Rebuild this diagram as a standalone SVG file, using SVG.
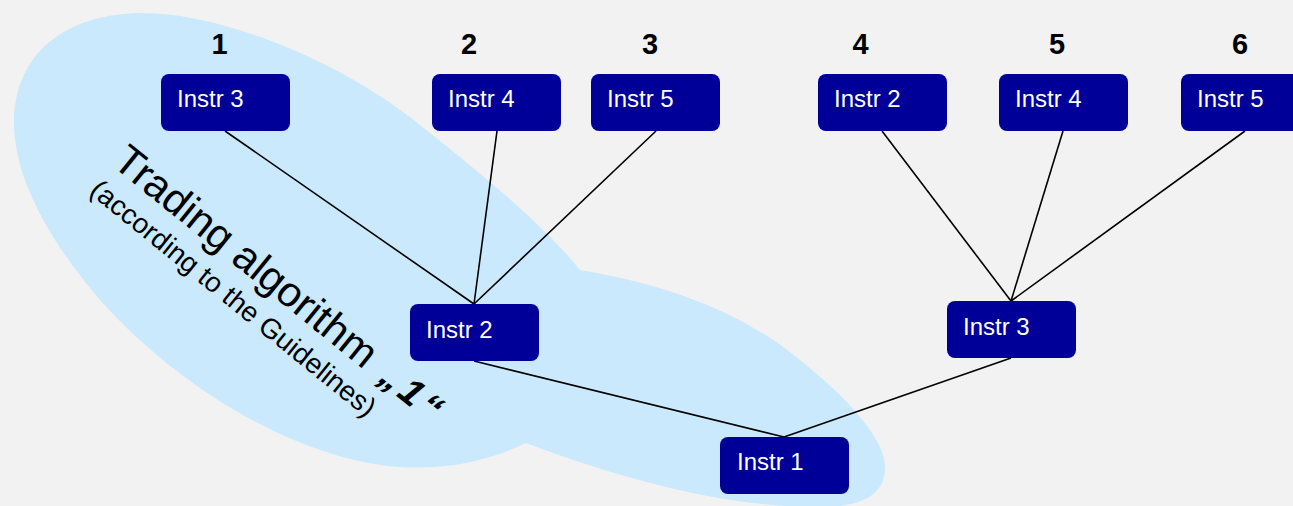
<svg xmlns="http://www.w3.org/2000/svg" width="1293" height="506" viewBox="0 0 1293 506">
<style>
.node rect{fill:#000099;}
.node text{fill:#ffffff;font-family:"Liberation Sans",Arial,sans-serif;font-size:24px;}
.num{fill:#000;font-family:"Liberation Sans",Arial,sans-serif;font-size:29px;font-weight:bold;text-anchor:middle;}
.conn line{stroke:#000;stroke-width:1.6;}
.lbl{fill:#000;font-family:"Liberation Sans",Arial,sans-serif;}
</style>
<rect x="0" y="0" width="1293" height="506" fill="#f2f2f2"/>
<path id="blob" d="M143,13 C220,13 340,60 420,125 C470,165 540,220 580,270 C660,283 740,310 800,360 C850,400 885,440 885,467 C885,490 870,502 840,506 C760,512 650,490 526,443 C490,460 450,470 400,467 C300,460 180,390 100,300 C40,230 14,170 14,123 C14,50 70,13 143,13 Z" fill="#cbe9fd"/>
<g id="label">
<text class="lbl" transform="translate(111,165) rotate(39)"><tspan x="0" y="0" font-size="42">Trading algorithm <tspan dx="6" font-weight="bold" font-style="italic" font-size="38" letter-spacing="4">„1“</tspan></tspan><tspan x="0" y="36" font-size="28">(according to the Guidelines)</tspan></text>
</g>
<g id="numbers">
<text class="num" x="219.5" y="54">1</text>
<text class="num" x="469" y="54">2</text>
<text class="num" x="650" y="54">3</text>
<text class="num" x="860.5" y="54">4</text>
<text class="num" x="1057" y="54">5</text>
<text class="num" x="1240" y="54">6</text>
</g>
<g id="connectors" class="conn">
<line x1="225" y1="131" x2="474" y2="304"/>
<line x1="497" y1="131" x2="474" y2="304"/>
<line x1="656" y1="131" x2="474" y2="304"/>
<line x1="882" y1="131" x2="1011" y2="301"/>
<line x1="1063" y1="131" x2="1011" y2="301"/>
<line x1="1245" y1="131" x2="1011" y2="301"/>
<line x1="474" y1="361" x2="784" y2="437"/>
<line x1="1011" y1="358" x2="784" y2="437"/>
</g>
<g id="n1" class="node"><rect x="161" y="74" width="129" height="57" rx="8"/><text x="177" y="107">Instr 3</text></g>
<g id="n2" class="node"><rect x="432" y="74" width="129" height="57" rx="8"/><text x="448" y="107">Instr 4</text></g>
<g id="n3" class="node"><rect x="591" y="74" width="129" height="57" rx="8"/><text x="607" y="107">Instr 5</text></g>
<g id="n4" class="node"><rect x="818" y="74" width="129" height="57" rx="8"/><text x="834" y="107">Instr 2</text></g>
<g id="n5" class="node"><rect x="999" y="74" width="129" height="57" rx="8"/><text x="1015" y="107">Instr 4</text></g>
<g id="n6" class="node"><rect x="1181" y="74" width="129" height="57" rx="8"/><text x="1197" y="107">Instr 5</text></g>
<g id="m1" class="node"><rect x="410" y="304" width="129" height="57" rx="8"/><text x="426" y="338">Instr 2</text></g>
<g id="m2" class="node"><rect x="947" y="301" width="129" height="57" rx="8"/><text x="963" y="335">Instr 3</text></g>
<g id="b1" class="node"><rect x="720" y="437" width="129" height="57" rx="8"/><text x="737" y="470">Instr 1</text></g>
</svg>
